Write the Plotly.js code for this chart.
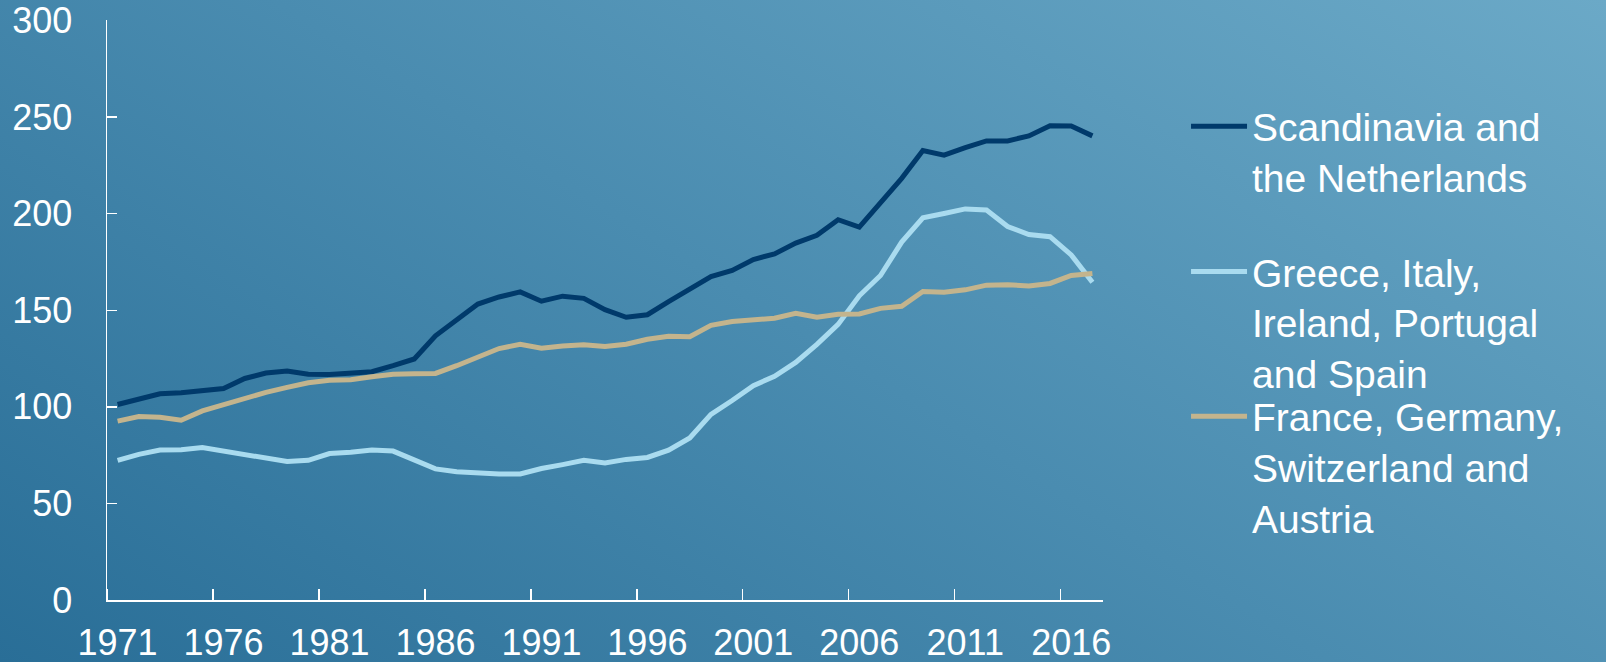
<!DOCTYPE html>
<html>
<head>
<meta charset="utf-8">
<script src="https://cdn.plot.ly/plotly-3.0.1.min.js"></script>
<style>
  html, body { margin: 0; padding: 0; width: 1606px; height: 662px; overflow: hidden; }
  body { background: linear-gradient(32deg, #296e97 0%, #4a8cb0 50%, #6ba9c7 100%); }
  #chart { width: 1606px; height: 662px; }
</style>
</head>
<body>
<div id="chart"></div>
<script>
// Years 1971-2017
const years = [1971,1972,1973,1974,1975,1976,1977,1978,1979,1980,
               1981,1982,1983,1984,1985,1986,1987,1988,1989,1990,
               1991,1992,1993,1994,1995,1996,1997,1998,1999,2000,
               2001,2002,2003,2004,2005,2006,2007,2008,2009,2010,
               2011,2012,2013,2014,2015,2016,2017];

const scandinavia = [101.2,103.8,106.8,107.3,108.4,109.5,114.7,117.5,118.6,116.9,
                     116.7,117.3,118.2,121.3,124.8,136.8,145.1,153.2,156.9,159.5,
                     154.7,157.3,156.2,150.3,146.4,147.7,154.5,161.2,167.4,170.6,
                     176.3,179.2,184.8,188.8,196.9,193.1,205.6,218.3,232.7,230.3,
                     234.2,237.7,237.7,240.3,245.6,245.4,240.3];

const southern = [72.3,75.4,77.6,77.8,78.9,77.1,74.9,73.4,71.7,72.3,
                  75.8,76.5,77.6,77.1,72.8,67.9,66.4,65.8,65.3,65.3,
                  68.1,70.1,72.3,71.0,72.8,73.8,77.6,83.9,96.1,103.3,
                  111.0,115.8,123.0,132.4,142.7,157.5,168.0,185.3,197.9,200.1,
                  202.5,201.9,193.4,189.2,188.1,178.7,164.5];

const central = [92.6,95.0,94.6,93.1,97.9,101.2,104.2,107.5,110.1,112.5,
                 113.8,114.0,115.6,116.9,117.1,117.3,121.3,125.8,130.2,132.4,
                 130.4,131.5,132.2,131.3,132.4,135.0,136.6,136.3,142.2,144.2,
                 144.9,145.9,148.4,146.4,147.9,148.1,151.0,152.1,159.7,159.3,
                 160.6,163.0,163.2,162.6,163.9,168.0,169.1];

const seriesNames = [
  "Scandinavia and<br>the Netherlands",
  "Greece, Italy,<br>Ireland, Portugal<br>and Spain",
  "France, Germany,<br>Switzerland and<br>Austria"
];
const seriesColors = ["#003a6b", "#a9dbef", "#c3b48d"];

const tickYears = [1971,1976,1981,1986,1991,1996,2001,2006,2011,2016];
const tickLabels = tickYears.map(String);
const yTicks = [0,50,100,150,200,250,300];

const FONT = "Liberation Sans, Arial, sans-serif";
const legendIds = ["legend", "legend2", "legend3"];
const legendTops = [0.8575, 0.638, 0.4195];

const seriesValues = [scandinavia, southern, central];
const traces = seriesValues.map((vals, i) => ({
  type: "scatter",
  mode: "lines",
  x: years,
  y: vals,
  name: seriesNames[i],
  legend: legendIds[i],
  line: { color: seriesColors[i], width: 5 },
  hoverinfo: "x+y"
}));

function legendStyle(top) {
  return {
    xref: "container", yref: "container",
    x: 0.7385, y: top, xanchor: "left", yanchor: "top",
    font: { family: FONT, size: 39, color: "#ffffff" },
    bgcolor: "rgba(0,0,0,0)",
    borderwidth: 0,
    valign: "top",
    itemwidth: 56
  };
}

const layout = {
  width: 1606,
  height: 662,
  paper_bgcolor: "rgba(0,0,0,0)",
  plot_bgcolor: "rgba(0,0,0,0)",
  margin: { l: 107, r: 503, t: 20, b: 62 },
  font: { family: FONT, color: "#ffffff", size: 36 },
  showlegend: true,
  legend: legendStyle(legendTops[0]),
  legend2: legendStyle(legendTops[1]),
  legend3: legendStyle(legendTops[2]),
  xaxis: {
    type: "linear",
    range: [1970.5, 2017.5],
    tickmode: "array",
    tickvals: tickYears,
    ticktext: tickLabels,
    ticks: "",
    minor: {
      tickmode: "array",
      tickvals: tickYears.map(v => v - 0.5),
      ticks: "inside",
      ticklen: 11,
      tickwidth: 1.5,
      tickcolor: "#ffffff",
      showgrid: false
    },
    showgrid: false,
    zeroline: false,
    showline: true,
    linecolor: "#ffffff",
    linewidth: 1.5,
    ticklabelstandoff: 10,
    tickfont: { family: FONT, size: 36, color: "#ffffff" }
  },
  yaxis: {
    range: [0, 300.3],
    tickmode: "array",
    tickvals: yTicks,
    ticks: "inside",
    ticklen: 10,
    tickwidth: 1.5,
    tickcolor: "#ffffff",
    showgrid: false,
    zeroline: false,
    showline: true,
    linecolor: "#ffffff",
    linewidth: 1.5,
    ticklabelstandoff: 26,
    tickfont: { family: FONT, size: 36, color: "#ffffff" }
  }
};

Plotly.newPlot("chart", traces, layout, { displayModeBar: false, staticPlot: true });
</script>
</body>
</html>
